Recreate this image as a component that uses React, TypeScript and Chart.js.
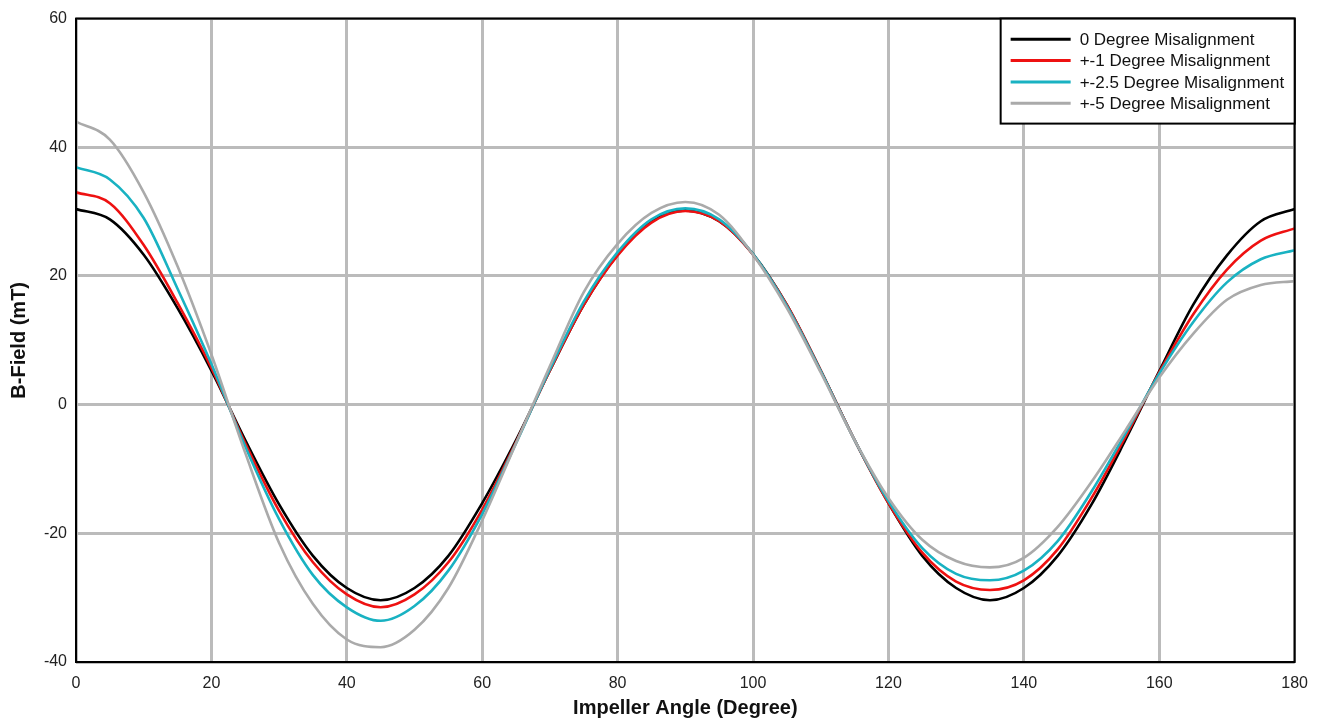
import React, { useEffect, useRef } from "react";
import { Chart, registerables } from "chart.js";

Chart.register(...registerables);

const angles = [0, 5, 10, 15, 20, 25, 30, 35, 40, 45, 50, 55, 60, 65, 70, 75, 80, 85, 90, 95, 100, 105, 110, 115, 120, 125, 130, 135, 140, 145, 150, 155, 160, 165, 170, 175, 180];

const mis0 = [30.4, 28.8, 23.3, 15.0, 5.3, -5.5, -15.5, -23.5, -28.5, -30.4, -28.5, -23.5, -15.3, -5.5, 5.3, 15.5, 23.3, 28.5, 30.2, 28.5, 23.4, 15.5, 5.3, -5.5, -15.3, -23.5, -28.5, -30.4, -28.5, -23.5, -15.5, -5.5, 5.2, 15.5, 23.2, 28.5, 30.4];
const mis1 = [33.0, 31.3, 24.8, 15.8, 5.7, -6.0, -16.5, -24.5, -29.5, -31.5, -29.5, -24.5, -16.3, -5.8, 5.3, 15.5, 23.2, 28.3, 30.1, 28.5, 23.3, 15.5, 5.3, -5.5, -15.3, -23.0, -27.5, -28.8, -27.3, -22.5, -14.5, -5.0, 5.0, 14.0, 21.0, 25.5, 27.4];
const mis25 = [36.9, 35.0, 29.0, 18.0, 6.3, -6.5, -17.8, -26.5, -31.5, -33.6, -31.3, -25.8, -17.0, -6.0, 5.5, 16.0, 23.7, 28.8, 30.5, 28.8, 23.4, 15.3, 5.2, -5.5, -15.0, -22.3, -26.3, -27.3, -25.8, -21.2, -13.5, -4.5, 4.8, 12.8, 19.0, 22.6, 24.0];
const mis5 = [44.0, 41.2, 33.0, 21.5, 7.8, -7.5, -21.5, -31.0, -36.5, -37.7, -35.0, -28.5, -18.0, -6.0, 6.0, 17.5, 25.0, 29.8, 31.5, 29.5, 23.3, 15.0, 5.0, -5.5, -14.5, -21.0, -24.3, -25.3, -23.8, -19.0, -12.0, -4.0, 4.2, 11.0, 16.3, 18.6, 19.2];

const seriesLabels = ["0 Degree Misalignment", "+-1 Degree Misalignment", "+-2.5 Degree Misalignment", "+-5 Degree Misalignment"];
const seriesColors = ["#000000", "#ee1111", "#19b2c2", "#aaaaaa"];
const seriesValues = [mis0, mis1, mis25, mis5];

const xTitle = "Impeller Angle (Degree)";
const yTitle = "B-Field (mT)";

const FONT = "'Liberation Sans', Arial, sans-serif";

const frameAndLegend = {
  id: "frameAndLegend",
  afterDraw(chart: any) {
    const { ctx, chartArea } = chart;
    ctx.save();
    // plot frame
    ctx.strokeStyle = "#000";
    ctx.lineWidth = 2;
    ctx.strokeRect(chartArea.left, chartArea.top, chartArea.right - chartArea.left, chartArea.bottom - chartArea.top);
    // legend box
    const w = 294;
    const h = 105;
    const x0 = chartArea.right - w;
    const y0 = chartArea.top;
    ctx.fillStyle = "#fff";
    ctx.fillRect(x0, y0, w, h);
    ctx.strokeRect(x0, y0, w, h);
    ctx.font = `17px ${FONT}`;
    ctx.textBaseline = "middle";
    ctx.textAlign = "left";
    chart.data.datasets.forEach((ds: any, i: number) => {
      const y = y0 + 20.7 + 21.3 * i;
      ctx.strokeStyle = ds.borderColor;
      ctx.lineWidth = 3;
      ctx.beginPath();
      ctx.moveTo(x0 + 10, y);
      ctx.lineTo(x0 + 70, y);
      ctx.stroke();
      ctx.fillStyle = "#111";
      ctx.fillText(ds.label, x0 + 79, y + 1);
    });
    ctx.restore();
  },
};

export default function App() {
  const ref = useRef<HTMLCanvasElement>(null);

  useEffect(() => {
    if (!ref.current) return;
    const chart = new Chart(ref.current, {
      type: "line",
      data: {
        datasets: seriesValues.map((vals, i) => ({
          label: seriesLabels[i],
          data: angles.map((a, j) => ({ x: a, y: vals[j] })),
          borderColor: seriesColors[i],
          backgroundColor: seriesColors[i],
          borderWidth: 2.6,
          pointRadius: 0,
          fill: false,
          cubicInterpolationMode: "monotone" as const,
          order: 4 - i,
        })),
      },
      options: {
        responsive: false,
        animation: false,
        events: [],
        layout: { padding: { left: 0, top: 16, right: 24, bottom: 0 } },
        plugins: {
          legend: { display: false },
          tooltip: { enabled: false },
        },
        scales: {
          x: {
            type: "linear",
            min: 0,
            max: 180,
            ticks: {
              stepSize: 20,
              padding: 12,
              color: "#222",
              font: { family: FONT, size: 16 },
              maxRotation: 0,
            },
            grid: { color: "#bbbbbb", lineWidth: 3, drawTicks: false },
            border: { display: false },
            title: {
              display: true,
              text: xTitle,
              color: "#111",
              font: { family: FONT, size: 20, weight: "bold" },
              padding: { top: 0, bottom: 1 },
            },
            afterFit(scale: any) {
              scale.height = 59;
            },
          },
          y: {
            type: "linear",
            min: -40,
            max: 60,
            ticks: {
              stepSize: 20,
              padding: 9,
              color: "#222",
              font: { family: FONT, size: 16 },
            },
            grid: { color: "#bbbbbb", lineWidth: 3, drawTicks: false },
            border: { display: false },
            title: {
              display: true,
              text: yTitle,
              color: "#111",
              font: { family: FONT, size: 20, weight: "bold" },
              padding: { top: 7, bottom: 0 },
            },
            afterFit(scale: any) {
              scale.width = 76;
            },
          },
        },
      },
      plugins: [frameAndLegend],
    });
    return () => chart.destroy();
  }, []);

  return (
    <div style={{ position: "absolute", left: 0, top: 0, width: 1320, height: 721, background: "#fff" }}>
      <canvas ref={ref} width={1320} height={721} style={{ display: "block" }} />
    </div>
  );
}
